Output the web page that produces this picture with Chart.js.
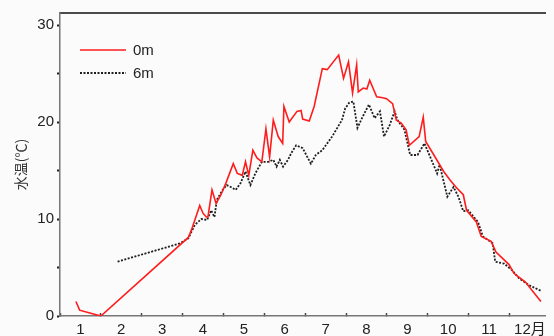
<!DOCTYPE html>
<html>
<head>
<meta charset="utf-8">
<script src="https://cdn.jsdelivr.net/npm/chart.js@4/dist/chart.umd.min.js"></script>
<style>
  html, body { margin: 0; padding: 0; background: #fbfbfb; }
  #wrap { width: 554px; height: 336px; }
</style>
</head>
<body>
<div id="wrap"><canvas id="c" width="554" height="336"></canvas></div>
<script>
// Water temperature through the year, surface (0m) and 6m depth.
// x = month position (1.0 = 1 Jan, 2.0 = 1 Feb, ... 12.0 = 1 Dec)
const surfaceMonth = [1.39,1.48,1.73,2.00,4.14,4.22,4.42,4.50,4.58,4.62,4.72,4.82,4.94,5.06,5.24,5.34,5.46,5.54,5.62,5.72,
  5.82,5.94,6.04,6.13,6.22,6.34,6.45,6.48,6.61,6.80,6.90,6.94,7.10,7.22,7.42,7.54,7.82,7.94,8.06,8.16,
  8.26,8.30,8.42,8.51,8.58,8.75,8.90,8.99,9.14,9.23,9.35,9.47,9.55,9.79,9.89,9.95,10.15,10.39,10.55,10.71,
  10.87,10.95,11.19,11.31,11.55,11.67,11.99,12.11,12.39,12.77];
const surfaceTemp = [1.5,0.6,0.3,0,8.1,8.9,11.4,10.6,10.2,10.2,13.0,11.6,12.5,13.7,15.7,14.7,14.5,15.9,14.5,17.1,
  16.3,15.9,19.3,16.4,20.2,18.5,17.8,21.6,20.0,21.1,21.2,20.3,20.1,21.6,25.5,25.4,26.9,24.5,26.2,23.0,
  25.9,23.1,23.5,23.4,24.3,22.6,22.5,22.4,21.9,20.2,19.9,19.2,17.6,18.5,20.5,18.0,16.6,14.9,14.0,13.2,
  12.5,10.9,9.7,8.2,7.7,6.6,5.3,4.4,3.5,1.5];

const deepMonth = [2.41,3.94,4.14,4.30,4.46,4.60,4.70,4.78,4.84,4.98,5.08,5.18,5.30,5.42,5.54,5.66,5.78,5.94,6.10,6.22,
  6.30,6.38,6.46,6.58,6.66,6.78,6.94,7.14,7.26,7.42,7.66,7.90,7.98,8.08,8.18,8.28,8.39,8.56,8.70,8.83,
  8.93,9.07,9.19,9.26,9.43,9.57,9.75,9.92,10.07,10.23,10.29,10.48,10.63,10.75,10.87,10.99,11.23,11.35,11.59,11.65,
  11.87,12.07,12.23,12.47,12.77];
const deepTemp = [5.6,7.5,8.0,9.4,10.0,9.9,10.9,10.2,12.0,13.0,13.5,13.3,13.0,13.7,14.9,13.5,14.7,15.9,15.9,16.1,
  15.4,16.1,15.4,16.1,16.8,17.6,17.3,15.7,16.6,17.1,18.5,20.2,21.4,22.0,22.1,19.4,20.4,21.8,20.4,21.1,
  18.5,19.7,21.1,20.2,19.2,16.6,16.6,17.8,16.3,14.7,15.6,12.3,13.3,12.3,10.8,10.9,9.7,8.2,7.5,5.6,
  5.4,4.7,3.9,3.2,2.6];

const seriesNames = ['0m', '6m'];
const monthLabels = ['1','2','3','4','5','6','7','8','9','10','11','12月'];
const tempTicks = [0, 5, 10, 15, 20, 25, 30];
const yTitle = '水温(℃)';

const toPoints = (xs, ys) => xs.map((x, i) => ({ x: x, y: ys[i] }));

const FONT = '"Liberation Sans", "Noto Sans CJK JP", sans-serif';

// Small key in the upper-left of the plot: a line sample and the series name
const seriesKey = {
  id: 'seriesKey',
  afterDatasetsDraw(chart) {
    const ctx = chart.ctx;
    const area = chart.chartArea;
    chart.data.datasets.forEach((ds, i) => {
      const y = area.top + 37 + i * 23;
      ctx.save();
      ctx.strokeStyle = ds.borderColor;
      ctx.lineWidth = ds.borderWidth;
      ctx.setLineDash(ds.borderDash || []);
      ctx.beginPath();
      ctx.moveTo(area.left + 20, y);
      ctx.lineTo(area.left + 66, y);
      ctx.stroke();
      ctx.setLineDash([]);
      ctx.fillStyle = '#222';
      ctx.font = '15px ' + FONT;
      ctx.textBaseline = 'middle';
      ctx.fillText(ds.label, area.left + 73, y + 1);
      ctx.restore();
    });
  }
};

new Chart(document.getElementById('c'), {
  type: 'line',
  data: {
    datasets: [
      {
        label: seriesNames[0],
        data: toPoints(surfaceMonth, surfaceTemp),
        borderColor: 'rgb(255,28,28)',
        borderWidth: 1.6,
        pointRadius: 0,
        tension: 0,
        fill: false
      },
      {
        label: seriesNames[1],
        data: toPoints(deepMonth, deepTemp),
        borderColor: '#1e1e1e',
        borderWidth: 1.8,
        borderDash: [2, 1.5],
        pointRadius: 0,
        tension: 0,
        fill: false
      }
    ]
  },
  options: {
    responsive: false,
    animation: false,
    layout: { padding: { top: 13, left: 0, right: 0, bottom: 0 } },
    plugins: { legend: { display: false }, tooltip: { enabled: false } },
    scales: {
      x: {
        type: 'linear',
        position: 'bottom',
        weight: 1,
        min: 1,
        max: 12.89,
        afterBuildTicks(scale) {
          const t = [];
          monthLabels.forEach((_, i) => {
            t.push({ value: i + 1 });
            t.push({ value: i + 1.5 });
          });
          scale.ticks = t;
        },
        afterFit(scale) { scale.height = 20; },
        ticks: {
          autoSkip: false,
          maxRotation: 0,
          padding: 8,
          color: '#222',
          font: { size: 15, family: FONT },
          callback(value) {
            if (Number.isInteger(value)) return '';
            return monthLabels[Math.floor(value) - 1];
          }
        },
        grid: {
          drawOnChartArea: false,
          drawTicks: true,
          tickLength: -3,
          tickWidth: 1.5,
          tickColor: (ctx) => (ctx.tick && Number.isInteger(ctx.tick.value)) ? '#444' : 'rgba(0,0,0,0)'
        },
        border: { display: true, color: '#777', width: 1.5 }
      },
      xTop: {
        type: 'linear',
        position: 'top',
        min: 1,
        max: 12.89,
        afterFit(scale) { scale.height = 0; },
        ticks: { display: false },
        grid: { drawOnChartArea: false, drawTicks: false },
        border: { display: true, color: '#4a4a4a', width: 2 }
      },
      y: {
        type: 'linear',
        min: 0,
        max: 31.24,
        afterBuildTicks(scale) {
          scale.ticks = tempTicks.map(v => ({ value: v }));
        },
        afterFit(scale) { scale.width = 60; },
        ticks: {
          padding: 3,
          color: '#222',
          font: { size: 15, family: FONT },
          callback(value) { return value % 10 === 0 ? String(value) : ''; }
        },
        grid: {
          drawOnChartArea: false,
          drawTicks: true,
          tickLength: 3,
          tickWidth: 2,
          tickColor: '#222'
        },
        border: { display: true, color: '#777', width: 1.5 },
        title: {
          display: true,
          text: yTitle,
          color: '#333',
          font: { size: 14, family: '"Noto Sans CJK JP", sans-serif' },
          padding: { top: 12, bottom: 0 }
        }
      }
    }
  },
  plugins: [seriesKey]
});
</script>
</body>
</html>
